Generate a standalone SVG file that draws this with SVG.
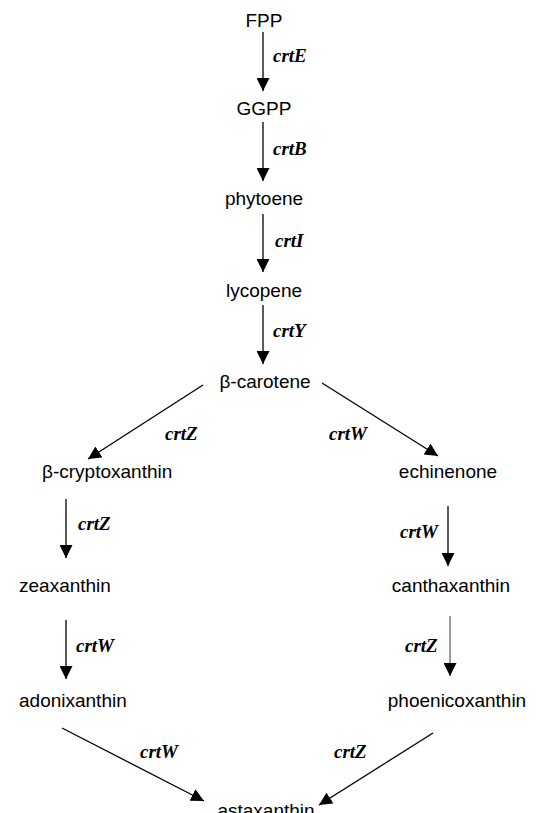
<svg xmlns="http://www.w3.org/2000/svg" width="538" height="813" viewBox="0 0 538 813">
<style>
.n{font-family:"Liberation Sans",Arial,sans-serif;font-size:19px;fill:#000}
.e{font-family:"Liberation Serif","Times New Roman",serif;font-size:19px;font-weight:bold;font-style:italic;fill:#000}
.c{stroke:#000;stroke-width:1.3;fill:none;marker-end:url(#ah)}
</style>
<defs>
<marker id="ah" viewBox="0 0 12 12" refX="12" refY="6" markerWidth="13" markerHeight="13" markerUnits="userSpaceOnUse" orient="auto">
<path d="M0,0 L12,6 L0,12 Z" fill="#000"/>
</marker>
</defs>
<rect width="538" height="813" fill="#fff"/>
<g id="connectors">
<line class="c" x1="263" y1="32" x2="263" y2="91"/>
<line class="c" x1="263" y1="122" x2="263" y2="181"/>
<line class="c" x1="263" y1="214" x2="263" y2="272"/>
<line class="c" x1="263" y1="305" x2="263" y2="364"/>
<line class="c" x1="203" y1="385" x2="88" y2="459"/>
<line class="c" x1="322" y1="383" x2="438" y2="456"/>
<line class="c" x1="66" y1="499" x2="66" y2="558"/>
<line class="c" x1="66" y1="620" x2="66" y2="679"/>
<line class="c" x1="448" y1="506" x2="448" y2="566"/>
<line class="c" x1="450" y1="616" x2="450" y2="676" style="stroke-width:0.8"/>
<line class="c" x1="62" y1="728" x2="204" y2="801"/>
<line class="c" x1="433" y1="733" x2="319" y2="805"/>
<text class="e" x="273" y="62">crtE</text>
<text class="e" x="273" y="155">crtB</text>
<text class="e" x="275" y="247">crtI</text>
<text class="e" x="273" y="337">crtY</text>
<text class="e" x="165" y="440">crtZ</text>
<text class="e" x="329" y="440">crtW</text>
<text class="e" x="78" y="530">crtZ</text>
<text class="e" x="76" y="652">crtW</text>
<text class="e" x="400" y="538">crtW</text>
<text class="e" x="405" y="652">crtZ</text>
<text class="e" x="140" y="758">crtW</text>
<text class="e" x="334" y="758">crtZ</text>
</g>
<g id="FPP"><text class="n" x="264" y="27" text-anchor="middle">FPP</text></g>
<g id="GGPP"><text class="n" x="264" y="115" text-anchor="middle">GGPP</text></g>
<g id="phytoene"><text class="n" x="264" y="205" text-anchor="middle">phytoene</text></g>
<g id="b-carotene-precursor"><text class="n" x="264" y="297" text-anchor="middle">lycopene</text></g>
<g id="b-carotene"><text class="n" x="265" y="388" text-anchor="middle">β-carotene</text></g>
<g id="b-cryptoxanthin"><text class="n" x="42" y="478">β-cryptoxanthin</text></g>
<g id="echinenone"><text class="n" x="448" y="478" text-anchor="middle">echinenone</text></g>
<g id="zeaxanthin"><text class="n" x="19" y="592">zeaxanthin</text></g>
<g id="canthaxanthin"><text class="n" x="451" y="592" text-anchor="middle">canthaxanthin</text></g>
<g id="adonixanthin"><text class="n" x="19" y="707">adonixanthin</text></g>
<g id="phoenicoxanthin"><text class="n" x="457" y="707" text-anchor="middle">phoenicoxanthin</text></g>
<g id="astaxanthin"><text class="n" x="266" y="817" text-anchor="middle">astaxanthin</text></g>
</svg>
